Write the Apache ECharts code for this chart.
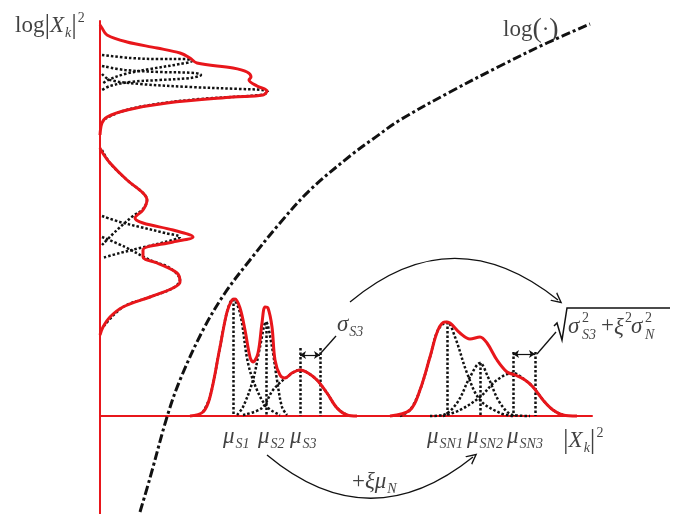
<!DOCTYPE html>
<html><head><meta charset="utf-8">
<script src="https://cdn.jsdelivr.net/npm/echarts@6/dist/echarts.min.js"></script>
<style>html,body{margin:0;padding:0;background:#fff}#c{width:684px;height:514px}</style>
</head><body><div id="c"></div>
<script>
// ---------- data (x = |X_k|^2 units to the right of the vertical axis, y = height above the horizontal axis) ----------
const logCurve = [[40,-96],[50,-62],[67,-1],[80,36],[103,86],[125,123],[150,156],[180,193],[210,226],[250,260],[273,277],[300,296],[350,324],[400,350],[447,373],[490,392]];

// density of log|X_k|^2 drawn along the vertical axis (x = density, y = value)
const logMixTop = [[0,391],[2,388],[7,381],[27,374],[57,368],[80,363],[90,358],[97,353],[133,348],[147,344],[151,339],[149,336],[157,330],[167,325],[163,321],[133,319],[67,313],[27,306],[7,299],[2,293],[0,281]];
const logCompT1 = [[2,361],[30,358],[60,357],[85,357],[92,355],[80,352],[50,347],[25,342],[8,336],[2,332]];
const logCompT2 = [[2,350],[25,346],[60,344],[95,343],[101,341],[90,338],[60,336],[30,334],[10,330],[2,326]];
const logCompT3 = [[2,342],[10,336],[40,332],[90,329],[140,327],[162,326],[168,324],[160,321],[100,317],[50,311],[20,304],[3,296]];

const logMixLow = [[0,268],[2,264],[10,253],[27,236],[43,223],[47,216],[43,206],[35,198],[43,193],[73,186],[93,179],[73,174],[43,166],[43,159],[57,153],[77,143],[80,134],[73,128],[50,119],[23,109],[10,99],[3,89],[0,81]];
const logCompL1 = [[2,266],[10,253],[27,236],[43,223],[47,216],[43,207],[33,200],[17,186],[2,171]];
const logCompL2 = [[2,200],[20,194],[40,189],[65,183],[80,179],[65,174],[40,168],[20,163],[2,158]];
const logCompL3 = [[2,179],[25,169],[50,156],[70,148],[80,136],[73,128],[50,119],[23,109],[3,89]];

// clean speech mixture on |X_k|^2
const mixS = [[90,0],[103,4],[110,19],[120,69],[127,104],[132,116],[135,117],[140,108],[145,86],[150,59],[153,54],[158,63],[162,93],[165,109],[168,108],[172,89],[175,56],[180,41],[185,38],[192,43],[200,46],[208,43],[217,36],[227,23],[237,8],[247,1],[257,0]];
const compS1 = [[103,4],[110,19],[120,69],[127,104],[133,117],[140,103],[148,53],[157,26],[167,9],[180,1]];
const compS2 = [[137,1],[143,9],[153,36],[160,69],[166,94],[172,69],[177,36],[182,9],[187,1]];
const compS3 = [[143,1],[162,8],[173,26],[187,39],[200,46],[208,43],[217,36],[227,23],[237,8],[247,1]];

// noisy speech mixture
const mixSN = [[290,0],[310,6],[320,26],[330,59],[338,86],[345,94],[350,93],[360,83],[370,77],[380,79],[387,73],[397,56],[407,44],[415,41],[425,36],[433,29],[443,16],[453,6],[463,1],[477,0]];
const compSN1 = [[300,0],[310,6],[320,26],[330,59],[338,86],[347,94],[355,79],[367,43],[380,16],[400,3],[413,0]];
const compSN2 = [[330,0],[343,1],[357,13],[370,39],[380,53],[388,39],[400,13],[413,1],[430,0]];
const compSN3 = [[343,0],[360,6],[380,19],[397,36],[413,43],[425,36],[433,29],[443,16],[453,6],[463,1]];

// means (x) with the height of their guide line
const guidesS  = [[133,117],[166,94],[200,68],[220,68]];
const guidesSN = [[347,94],[380,53],[413,64],[435,64]];
const sigmaS3  = [[200,61],[220,61]];
const sigmaSN3 = [[413,62],[435,62]];
const leaderS3  = [[220,62],[236,80]];
const leaderSN3 = [[437,62],[456,84]];
const arcTop    = [[250,114],[458,116]];
const arcBottom = [[167,-39],[373,-41]];
const radical   = [[454,90],[457,93],[462,76],[467,108],[570,108]];

const muS  = ['S1','S2','S3'];
const muSN = ['SN1','SN2','SN3'];
const muSX  = [123,158,190];
const muSNX = [327,367,407];

// ---------- build ----------
const RED = '#e8161b', INK = '#111';
const FONT = '"Liberation Serif","Times New Roman",serif';
const rich = {
  n:{fontFamily:FONT,fontSize:23,color:INK,lineHeight:28},
  m:{fontFamily:FONT,fontStyle:'italic',fontSize:23,color:INK,lineHeight:28},
  b:{fontFamily:FONT,fontSize:28,color:INK,lineHeight:30},
  s:{fontFamily:FONT,fontStyle:'italic',fontSize:14,color:INK,lineHeight:14,padding:[14,0,0,1]},
  p:{fontFamily:FONT,fontSize:14,color:INK,lineHeight:14,padding:[0,0,16,1]},
  t:{fontFamily:FONT,fontSize:14,color:INK,lineHeight:14},
  u:{fontFamily:FONT,fontStyle:'italic',fontSize:14,color:INK,lineHeight:14}
};
const labels = [
  {at:[-85,390], text:'{n|log}{b||}{m|X}{s|k}{b||}{p|2}'},
  {at:[403,386], text:'{n|log}{b|(}{n|·}{b|)}'},
  {at:[463,-25], text:'{b||}{m|X}{s|k}{b||}{p|2}'},
  {at:[237,91],  text:'{m|σ}{s|S3}'},
  {at:[252,-66], text:'{n|+}{m|ξμ}{s|N}'},
  {at:[468,89], text:'{m|σ}'},
  {at:[482,98], text:'{t|2}'},
  {at:[482,81], text:'{u|S3}'},
  {at:[501,90], text:'{n|+}'},
  {at:[514,88], text:'{m|ξ}'},
  {at:[525,98], text:'{t|2}'},
  {at:[531,89], text:'{m|σ}'},
  {at:[545,98], text:'{t|2}'},
  {at:[545,81], text:'{u|N}'}
];
muS.forEach((s,i)=>labels.push({at:[muSX[i],-21], text:'{m|μ}{s|'+s+'}'}));
muSN.forEach((s,i)=>labels.push({at:[muSNX[i],-21], text:'{m|μ}{s|'+s+'}'}));

function curve(data, color, width, type, z){
  return {type:'line', data, smooth:0.35, symbol:'none', showSymbol:false, clip:false, silent:true, z,
    lineStyle:{color, width, type, cap:'butt', opacity:1}};
}
const DOT = [2.5,2];
const series = [];
[logCompT1,logCompT2,logCompT3,logCompL1,logCompL2,logCompL3,compS1,compS2,compS3,compSN1,compSN2,compSN3]
  .forEach(d=>series.push(curve(d, INK, 2.5, DOT, 3)));
[logMixTop,logMixLow,mixS,mixSN].forEach(d=>series.push(curve(d, RED, 3, 'solid', 4)));
series.push(curve(logCurve, INK, 3, [9,3,3,3], 5));

const guideSegs = guidesS.concat(guidesSN).map(g=>({coords:[[g[0],g[1]],[g[0],0]]}));
series.push({type:'lines', coordinateSystem:'cartesian2d', clip:false, silent:true, z:3,
  lineStyle:{color:INK,width:2.5,type:DOT,cap:'butt',opacity:1}, data:guideSegs});
series.push({type:'lines', coordinateSystem:'cartesian2d', clip:false, silent:true, z:5,
  symbol:['arrow','arrow'], symbolSize:6, lineStyle:{color:INK,width:1.2,opacity:1},
  data:[{coords:sigmaS3},{coords:sigmaSN3}]});
series.push({type:'lines', coordinateSystem:'cartesian2d', clip:false, silent:true, z:5,
  symbol:'none', lineStyle:{color:INK,width:1.3,opacity:1},
  data:[{coords:leaderS3},{coords:leaderSN3}]});
const CHEV = 'path://M0,10 L5,0 L10,10 L8.6,10 L5,2.8 L1.4,10 Z';
series.push({type:'lines', coordinateSystem:'cartesian2d', clip:false, silent:true, z:5,
  symbol:['none',CHEV], symbolSize:[11,11], lineStyle:{color:INK,width:1.3,opacity:1},
  data:[{coords:arcTop, lineStyle:{curveness:0.41}},{coords:arcBottom, lineStyle:{curveness:-0.41}}]});
series.push({type:'lines', coordinateSystem:'cartesian2d', polyline:true, clip:false, silent:true, z:5,
  symbol:'none', lineStyle:{color:INK,width:1.5,opacity:1}, data:[{coords:radical}]});
series.push({type:'scatter', symbolSize:0, clip:false, silent:true, z:6,
  data: labels.map(l=>({value:l.at, label:{show:true, formatter:l.text, position:[0,0], align:'left', verticalAlign:'middle', rich}}))});

const axisCommon = {type:'value', axisTick:{show:false}, axisLabel:{show:false}, splitLine:{show:false},
  axisLine:{show:true, onZero:true, lineStyle:{color:RED, width:2}}};
const chart = echarts.init(document.getElementById('c'), null, {renderer:'canvas'});
chart.setOption({
  animation:false,
  backgroundColor:'#fff',
  grid:{left:100, right:92, top:21, bottom:0},
  xAxis:Object.assign({min:0, max:492}, axisCommon),
  yAxis:Object.assign({min:-98, max:395}, axisCommon),
  series
});
</script></body></html>
